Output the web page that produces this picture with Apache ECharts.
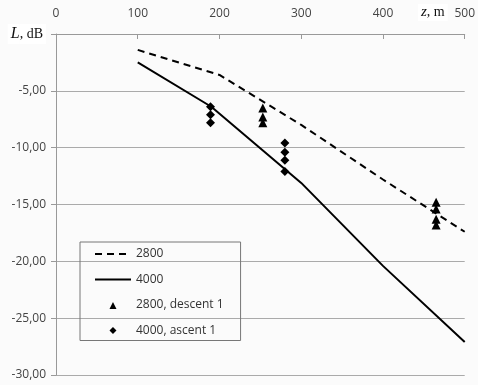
<!DOCTYPE html>
<html>
<head>
<meta charset="utf-8">
<script src="https://cdn.jsdelivr.net/npm/echarts@6/dist/echarts.min.js"></script>
<style>
html,body{margin:0;padding:0;background:#fbfbfb;}
#c{width:478px;height:385px;}
</style>
</head>
<body>
<div id="c"></div>
<script>
// ---- data ----
var xTicks = [0, 100, 200, 300, 400, 500];
var yTicks = [0, -5, -10, -15, -20, -25, -30];
var z2800 = [100, 200, 300, 400, 500];
var L2800 = [-1.4, -3.6, -8.0, -12.8, -17.4];
var z4000 = [100, 190, 300, 400, 500];
var L4000 = [-2.5, -6.4, -13.1, -20.4, -27.1];
var zDescent = [253, 253, 253, 465, 465, 465, 465];
var LDescent = [-6.5, -7.3, -7.8, -14.8, -15.4, -16.3, -16.8];
var zAscent = [189, 189, 189, 280, 280, 280, 280];
var LAscent = [-6.4, -7.1, -7.8, -9.6, -10.4, -11.1, -12.1];
var seriesNames = ['2800', '4000', '2800, descent 1', '4000, ascent 1'];

function pairs(xs, ys) { return xs.map(function (x, i) { return [x, ys[i]]; }); }

var chart = echarts.init(document.getElementById('c'), null, {renderer: 'canvas'});
var labelFont = '"Open Sans", "Noto Sans", sans-serif';
var serif = '"Liberation Serif", "DejaVu Serif", serif';

// legend icons drawn inside a 36x10 box (tiny corner dots fix the box size)
var box = 'M0,0h0.01v0.01h-0.01z M36,10h0.01v0.01h-0.01z ';
var triIcon = 'path://' + box + 'M14.5,9 L18,2 L21.5,9 Z';
var diaIcon = 'path://' + box + 'M18,1.5 L21.5,5 L18,8.5 L14.5,5 Z';

var option = {
  backgroundColor: '#fbfbfb',
  animation: false,
  grid: {left: 56, right: 9, top: 34, bottom: 10},
  xAxis: {
    type: 'value', position: 'top',
    min: xTicks[0], max: xTicks[xTicks.length - 1], interval: 100,
    axisLine: {show: true, lineStyle: {color: '#999', width: 1}},
    axisTick: {show: true, inside: true, length: 5, lineStyle: {color: '#999'}},
    splitLine: {show: false},
    axisLabel: {color: '#444', fontSize: 12, fontFamily: labelFont, margin: 14}
  },
  yAxis: {
    type: 'value',
    min: yTicks[yTicks.length - 1], max: yTicks[0], interval: 5,
    axisLine: {show: true, onZero: false, lineStyle: {color: '#999', width: 1}},
    axisTick: {show: true, inside: false, length: 5, lineStyle: {color: '#999'}},
    splitLine: {show: true, lineStyle: {color: '#aaa', width: 1}},
    axisLabel: {
      color: '#444', fontSize: 12, fontFamily: labelFont, margin: 10,
      formatter: function (v) {
        if (v === 0) return '{i|L}{s|, dB}';
        return v.toFixed(2).replace('.', ',');
      },
      rich: {
        i: {fontFamily: serif, fontStyle: 'italic', fontSize: 16, color: '#111',
            backgroundColor: '#fff', padding: [2, 0, 2, 3]},
        s: {fontFamily: serif, fontSize: 14, color: '#111',
            backgroundColor: '#fff', padding: [3, 3, 3, 0]}
      }
    }
  },
  legend: {
    orient: 'vertical', left: 80, top: 242,
    padding: [5, 17, 3, 14],
    itemWidth: 36, itemHeight: 10, itemGap: 11.5,
    borderColor: '#777', borderWidth: 1, borderRadius: 0,
    backgroundColor: 'transparent',
    textStyle: {fontSize: 12, fontFamily: labelFont, color: '#333', lineHeight: 14},
    data: [
      {name: seriesNames[0], itemStyle: {opacity: 0}},
      {name: seriesNames[1], itemStyle: {opacity: 0}},
      {name: seriesNames[2], icon: triIcon, itemStyle: {color: '#000', opacity: 1}},
      {name: seriesNames[3], icon: diaIcon, itemStyle: {color: '#000', opacity: 1}}
    ]
  },
  series: [
    {
      name: seriesNames[0], type: 'line', data: pairs(z2800, L2800),
      symbol: 'none', color: '#000',
      lineStyle: {color: '#000', width: 2, type: [7, 5]}
    },
    {
      name: seriesNames[1], type: 'line', data: pairs(z4000, L4000),
      symbol: 'none', color: '#000',
      lineStyle: {color: '#000', width: 2}
    },
    {
      name: seriesNames[2], type: 'scatter', data: pairs(zDescent, LDescent),
      symbol: 'triangle', symbolSize: 9, itemStyle: {color: '#000', opacity: 1}
    },
    {
      name: seriesNames[3], type: 'scatter', data: pairs(zAscent, LAscent),
      symbol: 'diamond', symbolSize: 9, itemStyle: {color: '#000', opacity: 1}
    }
  ],
  graphic: [
    {
      type: 'text', left: 418, top: 4, z: 100,
      style: {
        text: '{i|z}{s|, m}',
        backgroundColor: '#fff', padding: [1, 3, 1, 3],
        rich: {
          i: {fontFamily: serif, fontStyle: 'italic', fontSize: 15, fill: '#111'},
          s: {fontFamily: serif, fontSize: 14, fill: '#111'}
        }
      }
    }
  ]
};
chart.setOption(option);
</script>
</body>
</html>
